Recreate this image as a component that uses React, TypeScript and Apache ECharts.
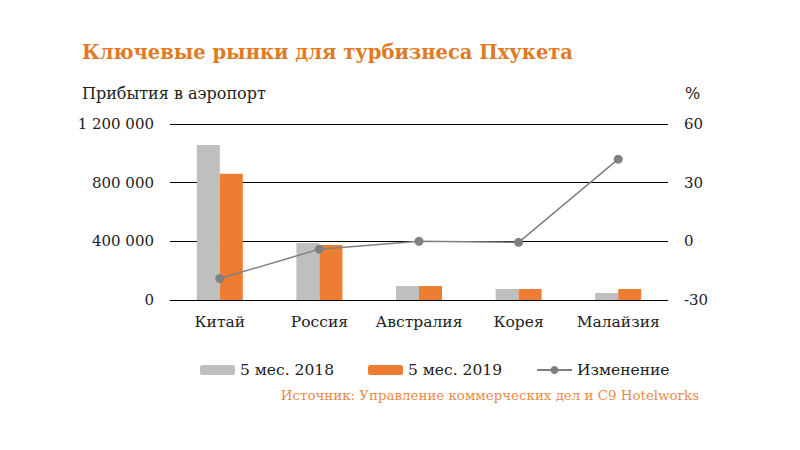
import React, { useEffect, useRef } from "react";
import * as echarts from "echarts";

const categories = ["Китай", "Россия", "Австралия", "Корея", "Малайзия"];
const arrivals2018 = [1057000, 388000, 95000, 75000, 48000];
const arrivals2019 = [860000, 375000, 95000, 75000, 75000];
const changePct = [-19, -4, 0, -0.5, 42];
const leftTicks = [0, 400000, 800000, 1200000];
const rightTicks = [-30, 0, 30, 60];

const FONT = "DejaVu Serif";

function fmt(v: number) {
  return String(v).replace(/\B(?=(\d{3})+(?!\d))/g, " ");
}

export default function App() {
  const ref = useRef<HTMLDivElement>(null);
  useEffect(() => {
    const chart = echarts.init(ref.current!, undefined, { renderer: "svg" });
    chart.setOption({
      animation: false,
      backgroundColor: "#ffffff",
      textStyle: { fontFamily: FONT },
      title: [
        {
          text: "Ключевые рынки для турбизнеса Пхукета",
          left: 77,
          top: 37,
          textStyle: { fontFamily: FONT, fontSize: 19.5, fontWeight: "bold", color: "#E07A24" },
        },
        {
          text: "Прибытия в аэропорт",
          left: 77,
          top: 80,
          textStyle: { fontFamily: FONT, fontSize: 16, fontWeight: "normal", color: "#222" },
        },
        {
          text: "%",
          left: 680,
          top: 80,
          textStyle: { fontFamily: FONT, fontSize: 16, fontWeight: "normal", color: "#222" },
        },
        {
          text: "Источник: Управление коммерческих дел и C9 Hotelworks",
          right: 96,
          top: 384,
          textStyle: { fontFamily: FONT, fontSize: 13.4, fontWeight: "normal", color: "#E88B4C" },
        },
      ],
      legend: {
        top: 357,
        left: 195,
        itemWidth: 35,
        itemHeight: 10,
        itemGap: 34,
        textStyle: { fontFamily: FONT, fontSize: 15.5, color: "#222" },
        data: [
          { name: "5 мес. 2018" },
          { name: "5 мес. 2019" },
          { name: "Изменение" },
        ],
      },
      grid: { left: 170, right: 132, top: 124, height: 176, containLabel: false },
      xAxis: {
        type: "category",
        data: categories,
        axisLine: { show: true, lineStyle: { color: "#000", width: 1 } },
        axisTick: { show: false },
        axisLabel: { fontFamily: FONT, fontSize: 15.5, color: "#222", margin: 14, interval: 0 },
      },
      yAxis: [
        {
          type: "value",
          min: leftTicks[0],
          max: leftTicks[leftTicks.length - 1],
          interval: 400000,
          axisLine: { show: false },
          axisTick: { show: false },
          splitLine: { show: true, lineStyle: { color: "#000", width: 1 } },
          axisLabel: { fontFamily: FONT, fontSize: 15, color: "#222", margin: 16, formatter: (v: number) => fmt(v) },
        },
        {
          type: "value",
          min: rightTicks[0],
          max: rightTicks[rightTicks.length - 1],
          interval: 30,
          axisLine: { show: false },
          axisTick: { show: false },
          splitLine: { show: false },
          axisLabel: { fontFamily: FONT, fontSize: 15, color: "#222", margin: 16 },
        },
      ],
      series: [
        {
          name: "5 мес. 2018",
          type: "bar",
          data: arrivals2018,
          barWidth: 23,
          barGap: "0%",
          itemStyle: { color: "#BFBFBF" },
        },
        {
          name: "5 мес. 2019",
          type: "bar",
          data: arrivals2019,
          barWidth: 23,
          barGap: "0%",
          itemStyle: { color: "#ED7D31" },
        },
        {
          name: "Изменение",
          type: "line",
          yAxisIndex: 1,
          data: changePct,
          symbol: "circle",
          symbolSize: 9,
          itemStyle: { color: "#808080" },
          lineStyle: { color: "#808080", width: 1.5 },
        },
      ],
    });
    return () => chart.dispose();
  }, []);
  return <div ref={ref} style={{ width: 800, height: 450, position: "absolute", left: 0, top: 0 }} />;
}
